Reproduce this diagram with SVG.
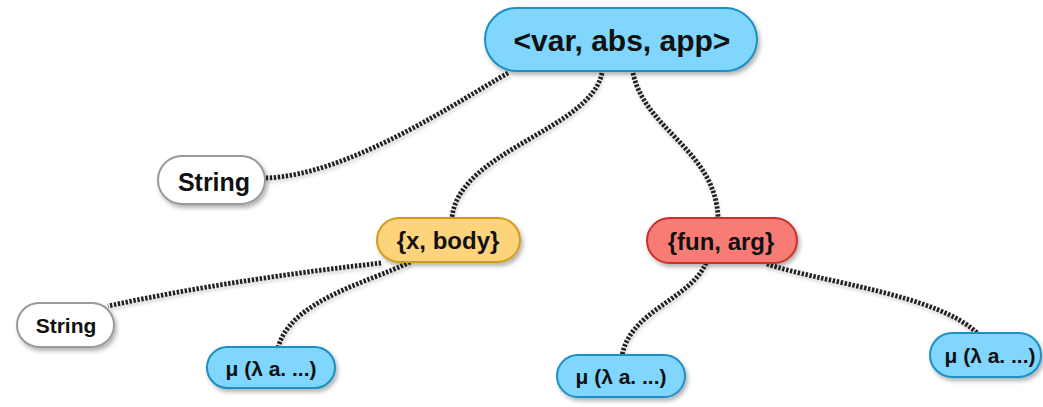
<svg xmlns="http://www.w3.org/2000/svg" width="1043" height="407" viewBox="0 0 1043 407">
<defs>
<filter id="sh" x="-20%" y="-30%" width="140%" height="170%">
<feDropShadow dx="2" dy="3" stdDeviation="2" flood-color="#000" flood-opacity="0.3"/>
</filter>
<filter id="lsh" x="-10%" y="-10%" width="120%" height="130%">
<feDropShadow dx="1" dy="3" stdDeviation="1.5" flood-color="#000" flood-opacity="0.18"/>
</filter>
</defs>
<style>
.n{stroke-width:2;filter:url(#sh)}
.blue{fill:#80d6fd;stroke:#1b8fc4}
.yel{fill:#fdd37c;stroke:#d29c1e}
.red{fill:#f87b74;stroke:#c9302b}
.wht{fill:#ffffff;stroke:#9a9a9a}
text{font-family:"Liberation Sans",Arial,sans-serif;font-weight:bold;fill:#111;text-anchor:middle}
.e{fill:none;stroke:#222;stroke-width:4.8;stroke-dasharray:2.4 1.6}
</style>
<g id="connectors" filter="url(#lsh)">
<path class="e" d="M508,73 C460,100 350,175 266,178"/>
<path class="e" d="M602,73 C590,130 460,150 452,217"/>
<path class="e" d="M633,73 C645,130 715,150 718,217"/>
<path class="e" d="M381,263 C300,272 200,286 108,306"/>
<path class="e" d="M410,262 C370,282 290,300 278,348"/>
<path class="e" d="M706,263 C690,300 630,310 622,356"/>
<path class="e" d="M767,264 C820,282 940,295 978,334"/>
</g>
<g id="node-top">
<rect class="n blue" x="485" y="8" width="272" height="63" rx="31.5"/>
<text x="622" y="51" font-size="30">&lt;var, abs, app&gt;</text>
</g>
<g id="node-string1">
<rect class="n wht" x="158" y="156" width="107" height="48" rx="24"/>
<text x="214" y="191" font-size="25">String</text>
</g>
<g id="node-xbody">
<rect class="n yel" x="377" y="218" width="143" height="44" rx="22"/>
<text x="448" y="249" font-size="24">{x, body}</text>
</g>
<g id="node-funarg">
<rect class="n red" x="647" y="218" width="150" height="45" rx="22.5"/>
<text x="721" y="250" font-size="24">{fun, arg}</text>
</g>
<g id="node-string2">
<rect class="n wht" x="17" y="303" width="97" height="44" rx="22"/>
<text x="66" y="333" font-size="21">String</text>
</g>
<g id="node-mu1">
<rect class="n blue" x="207" y="347" width="128" height="41" rx="20.5"/>
<text x="271" y="376" font-size="21">μ (λ a. ...)</text>
</g>
<g id="node-mu2">
<rect class="n blue" x="557" y="355" width="128" height="42" rx="21"/>
<text x="621" y="384" font-size="21">μ (λ a. ...)</text>
</g>
<g id="node-mu3">
<rect class="n blue" x="930" y="333" width="111" height="44" rx="22"/>
<text x="990" y="363" font-size="21">μ (λ a. ...)</text>
</g>
</svg>
